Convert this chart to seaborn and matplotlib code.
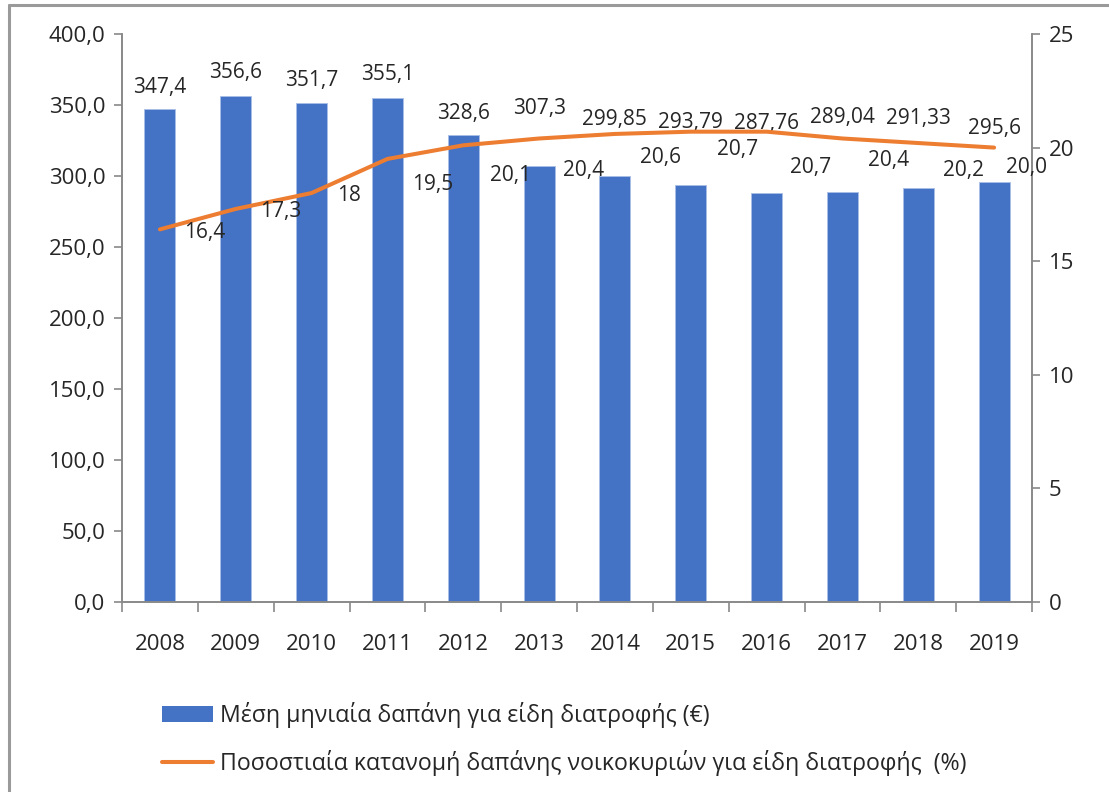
import numpy as np
import pandas as pd
import seaborn as sns
import matplotlib.pyplot as plt
from matplotlib.patches import Patch
from matplotlib.lines import Line2D
from matplotlib.ticker import FuncFormatter

years = ['2008', '2009', '2010', '2011', '2012', '2013', '2014', '2015', '2016', '2017', '2018', '2019']
spending = [347.4, 356.6, 351.7, 355.1, 328.6, 307.3, 299.85, 293.79, 287.76, 289.04, 291.33, 295.6]
share = [16.4, 17.3, 18.0, 19.5, 20.1, 20.4, 20.6, 20.7, 20.7, 20.4, 20.2, 20.0]
share_labels = ['16,4', '17,3', '18', '19,5', '20,1', '20,4', '20,6', '20,7', '20,7', '20,4', '20,2', '20,0']

bar_name = 'Μέση μηνιαία δαπάνη για είδη διατροφής (€)'
line_name = 'Ποσοστιαία κατανομή δαπάνης νοικοκυριών για είδη διατροφής  (%)'

# label placement (pixels) copied from the excel layout
bar_lift = [21, 23, 22, 23, 22, 57, 57, 62, 70, 74, 70, 54]
line_drop = [3, 3, 2, 26, 30, 32, 24, 18, 36, 22, 27, 20]
line_dx = [24, 24, 25, 25, 27, 24, 25, 26, 23, 26, 25, 12]

sns.set_style('white')
plt.rcParams['font.family'] = ['Open Sans', 'DejaVu Sans']

blue = '#4472C4'
orange = '#ED7D31'
grey = '#898989'

df = pd.DataFrame({'year': years, 'spending': spending, 'share': share})

fig = plt.figure(figsize=(11.09, 7.92), dpi=100)
ax = fig.add_axes([0.110, 0.2399, 0.8206, 0.7172])

sns.barplot(data=df, x='year', y='spending', color=blue, width=0.41,
            edgecolor='#A9BEE6', linewidth=0.6, saturation=1, ax=ax)
ax.set_ylim(0, 400)
ax.set_yticks(np.arange(0, 401, 50))
ax.yaxis.set_major_formatter(FuncFormatter(lambda v, p: f'{v:.1f}'.replace('.', ',')))
ax.set_xlabel('')
ax.set_ylabel('')

ax2 = ax.twinx()
sns.lineplot(x=np.arange(len(years)), y=df['share'], color=orange, linewidth=2.9, ax=ax2)
ax2.set_ylim(0, 25)
ax2.set_yticks(np.arange(0, 26, 5))
ax2.set_ylabel('')
ax.set_xlim(-0.5, len(years) - 0.5)

for a in (ax, ax2):
    for s in a.spines.values():
        s.set_color(grey)
        s.set_linewidth(1.2)
    a.spines['top'].set_visible(False)

ax.tick_params(axis='y', which='major', length=6, width=1.2, color=grey, left=True,
               labelsize=16, pad=6)
ax.tick_params(axis='x', which='major', length=0, labelsize=16, pad=23)
ax.set_xticks(np.arange(-0.5, len(years)), minor=True)
ax.tick_params(axis='x', which='minor', length=7, width=1.2, color=grey, bottom=True)
ax2.tick_params(axis='y', length=6, width=1.2, color=grey, right=True, labelsize=16, pad=6)

for i, bar in enumerate(ax.patches[:len(years)]):
    txt = f'{spending[i]}'.replace('.', ',')
    ax.annotate(txt, (bar.get_x() + bar.get_width() / 2, bar.get_height()),
                xytext=(0, bar_lift[i]), textcoords='offset pixels',
                ha='center', va='center', fontsize=15)

for i, lab in enumerate(share_labels):
    ax2.annotate(lab, (i, share[i]), xytext=(line_dx[i], -line_drop[i]),
                 textcoords='offset pixels', ha='left', va='center', fontsize=15)

handles = [Patch(facecolor=blue, edgecolor='none'),
           Line2D([0], [0], color=orange, linewidth=2.9)]
fig.legend(handles, [bar_name, line_name], loc='center left',
           bbox_to_anchor=(0.146, 0.067), frameon=False, fontsize=16.7,
           handlelength=2.2, handleheight=0.65, handletextpad=0.3,
           labelspacing=0.95, borderaxespad=0, borderpad=0)

# outer chart frame (only top/left edges fall inside the picture)
fig.add_artist(plt.Line2D([9 / 1109, 9 / 1109], [0, 1 - 5 / 792], color='#9a9a9a', linewidth=2.2))
fig.add_artist(plt.Line2D([9 / 1109, 1], [1 - 5 / 792, 1 - 5 / 792], color='#9a9a9a', linewidth=2.2))

fig.savefig('out.png', dpi=100)
